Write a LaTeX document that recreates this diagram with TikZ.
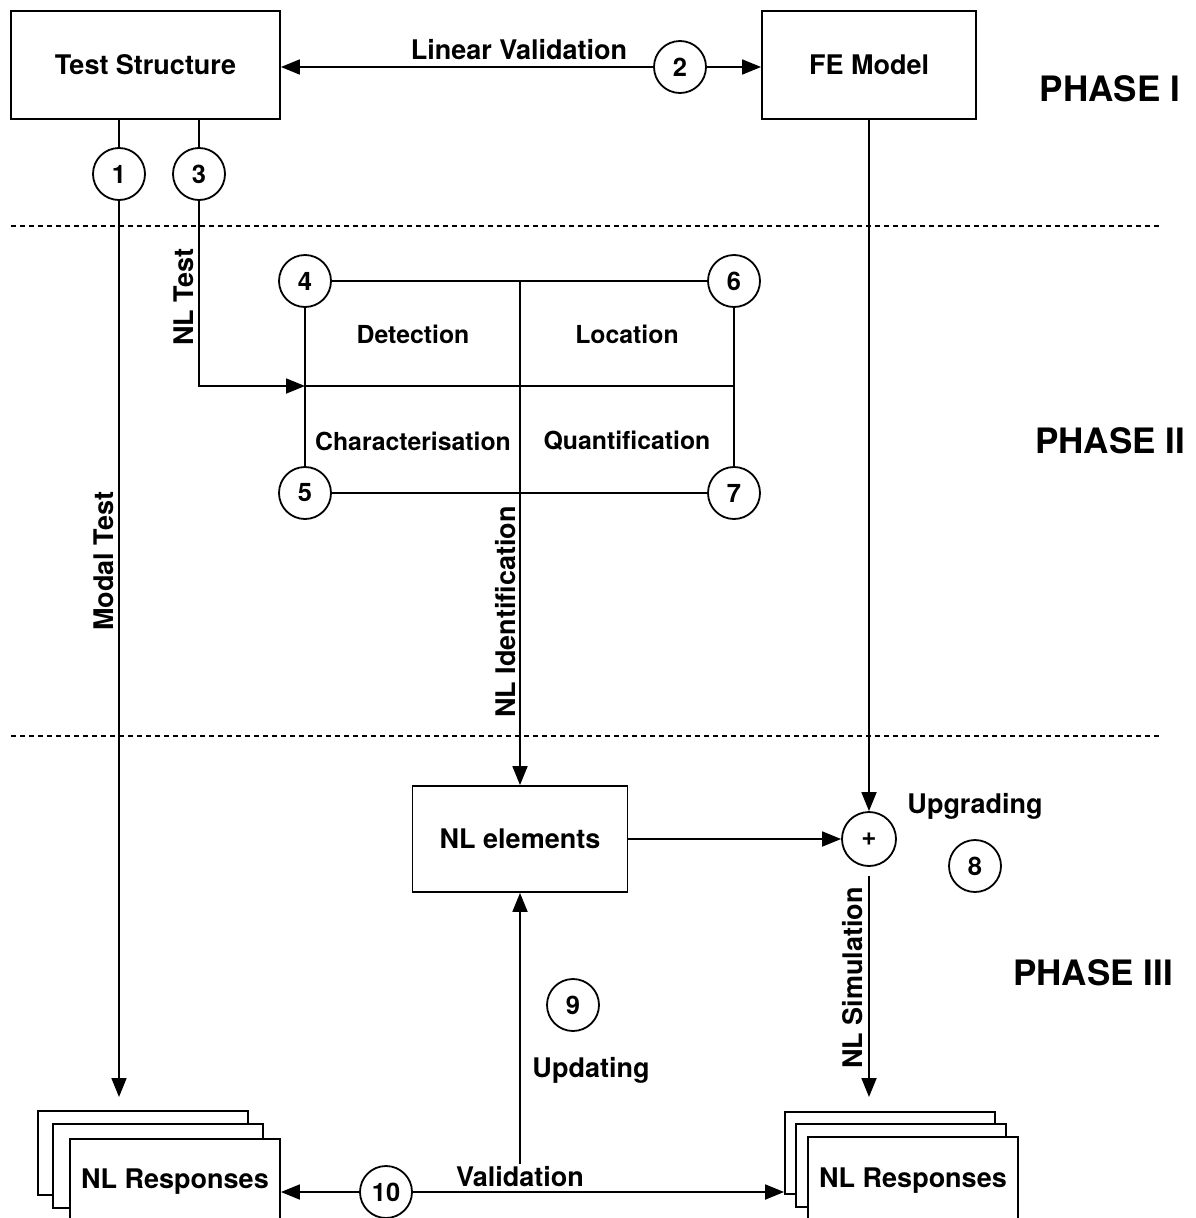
\documentclass[tikz,border=0pt]{standalone}
\usepackage{fontspec}
\setmainfont{TeX Gyre Heros}
\usetikzlibrary{arrows.meta}
\begin{document}
\begin{tikzpicture}[x=1pt,y=-1pt,
  every node/.style={font=\fontsize{27}{32}\selectfont\bfseries},
  grid/.style={font=\fontsize{24.8}{30}\selectfont\bfseries},
  box/.style={draw,line width=1.8pt,inner sep=0pt,fill=white},
  num/.style={draw,circle,line width=1.8pt,inner sep=0pt,minimum size=52pt,fill=white,font=\fontsize{25.5}{30}\selectfont\bfseries},
  lbl/.style={inner sep=1pt},
  phase/.style={font=\fontsize{35}{40}\selectfont\bfseries},
  conn/.style={line width=1.8pt},
  arr/.style={line width=1.8pt,-{Triangle[length=19pt,width=15pt]}},
  sep/.style={line width=1.4pt,dash pattern=on 5pt off 4pt}
]
\useasboundingbox (0,0) rectangle (1195,1218);

% Phase I
\node[box,minimum width=269pt,minimum height=108pt] (ts) at (145.5,65) {Test Structure};
\node[box,minimum width=214pt,minimum height=108pt] (fe) at (869,65) {FE Model};
\node[num] (c2) at (680,67) {2};
\node[lbl] (linval) at (519,50) {Linear Validation};
\draw[arr] (c2) -- (c2 -| ts.east);
\draw[arr] (c2) -- (c2 -| fe.west);
\node[num] (c1) at (119,174) {1};
\node[num] (c3) at (199,174) {3};
\draw[conn] (c1) -- (c1 |- ts.south);
\draw[conn] (c3) -- (c3 |- ts.south);
\node[phase] (p1) at (1110,89) {PHASE I};

% separators
\draw[sep] (11,226) -- (1160,226);
\draw[sep] (11,736) -- (1160,736);

% Phase II grid
\node[num] (c4) at (305,281) {4};
\node[num] (c6) at (734,281) {6};
\node[num] (c5) at (305,493) {5};
\node[num] (c7) at (734,493) {7};
\draw[conn] (c4) -- (c6);
\draw[conn] (c5) -- (c7);
\draw[conn] (c4) -- (c5);
\draw[conn] (c6) -- (c7);
\coordinate (midl) at (305,386);
\coordinate (midr) at (734,386);
\draw[conn] (midl) -- (midr);
\node[grid] (det) at (413,334) {Detection};
\node[grid] (loc) at (627,334) {Location};
\node[grid] (cha) at (413,441) {Characterisation};
\node[grid] (qua) at (627,441) {Quantification};
\node[phase] (p2) at (1110,441) {PHASE II};

% NL test
\draw[arr] (c3) |- (midl);
\node[lbl,rotate=90] (nltest) at (184,297) {NL Test};

% Modal test
\coordinate (modalend) at (119,1097);
\draw[arr] (c1) -- (modalend);
\node[lbl,rotate=90] (modal) at (104,561) {Modal Test};

% Phase III
\node[box,minimum width=215pt,minimum height=106pt] (nle) at (520,839) {NL elements};
\draw[arr] (c4 -| nle.north) -- (nle.north);
\node[lbl,rotate=90] (nlid) at (506,612) {NL Identification};

\node[num,minimum size=54pt,font=\fontsize{26}{30}\selectfont\bfseries] (plus) at (869,839) {+};
\draw[arr] (nle.east) -- (plus.west);
\draw[arr] (fe.south) -- (plus.north);
\node[lbl] (upg) at (975,806) {Upgrading};
\node[num] (c8) at (975,866) {8};

\coordinate (simstart) at (869,876);
\coordinate (simend) at (869,1097);
\draw[arr] (simstart) -- (simend);
\node[lbl,rotate=90] (nlsim) at (853,978) {NL Simulation};
\node[phase] (p3) at (1093,973) {PHASE III};

\node[num] (c9) at (573,1005) {9};
\node[lbl] (upd) at (591,1070) {Updating};

% Left NL responses stack
\node[box,minimum width=210pt,minimum height=84pt] (lb1) at (143,1153) {};
\node[box,minimum width=210pt,minimum height=84pt] (lb2) at (158,1166) {};
\node[box,minimum width=210pt,minimum height=86pt] (lr) at (175,1182) {NL Responses};
% Right NL responses stack
\node[box,minimum width=210pt,minimum height=82pt] (rb1) at (890,1153) {};
\node[box,minimum width=210pt,minimum height=83pt] (rb2) at (901,1165.5) {};
\node[box,minimum width=210pt,minimum height=88pt] (rr) at (913,1181) {NL Responses};

% Validation
\node[num] (c10) at (386,1192) {10};
\node[lbl] (val) at (520,1177) {Validation};
\draw[arr] (c10) -- (c10 -| lr.east);
\draw[arr] (c10) -- (c10 -| rb1.west);
\coordinate (valtop) at (520,1164);
\draw[arr] (valtop) -- (nle.south);
\end{tikzpicture}
\end{document}
